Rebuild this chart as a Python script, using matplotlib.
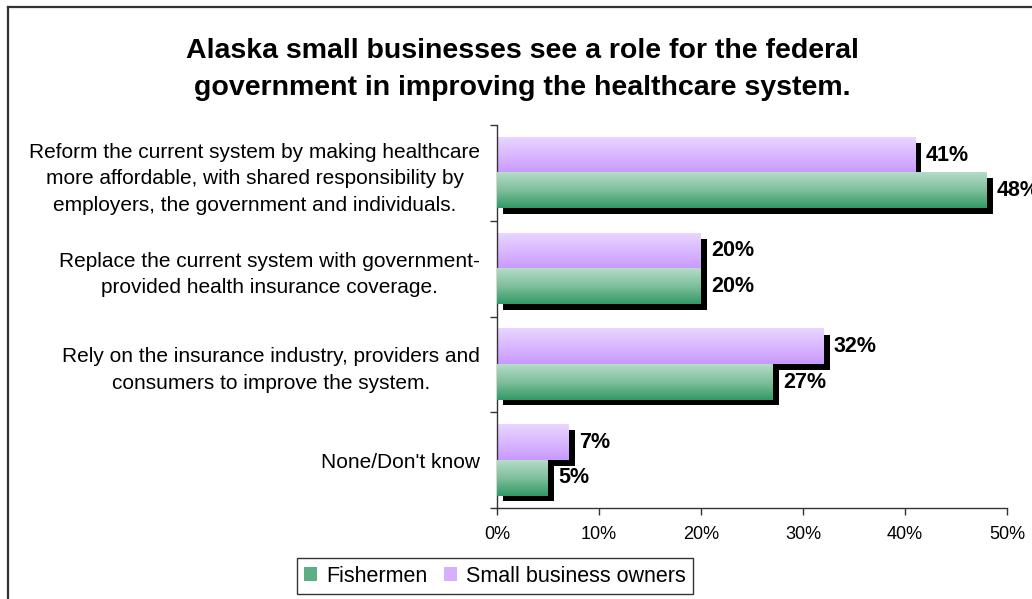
import numpy as np
import matplotlib
matplotlib.use('Agg')
import matplotlib.pyplot as plt
import matplotlib.patheffects as pe
from matplotlib.colors import LinearSegmentedColormap
from matplotlib.patches import Patch
from matplotlib.lines import Line2D

plt.rcParams['font.family'] = ['Liberation Sans', 'DejaVu Sans']

#-------------------------------------------------------------------------------------
categories = ['Reform the current system by making healthcare\nmore affordable, with shared responsibility by\nemployers, the government and individuals.',
              'Replace the current system with government-\nprovided health insurance coverage.',
              'Rely on the insurance industry, providers and\nconsumers to improve the system.',
              "None/Don't know"]
fishermen = [48, 20, 27, 5]
small_biz = [41, 20, 32, 7]
xticks = [0, 10, 20, 30, 40, 50]
xticklabels = ['0%', '10%', '20%', '30%', '40%', '50%']
title = 'Alaska small businesses see a role for the federal\ngovernment in improving the healthcare system.'
#-------------------------------------------------------------------------------------

green_cmap = LinearSegmentedColormap.from_list('g', ['#b4dcc8', '#7fbf9c', '#339966'])
purple_cmap = LinearSegmentedColormap.from_list('p', ['#e8d6ff', '#d9b8ff', '#c999ff'])
grad = np.linspace(0, 1, 64).reshape(-1, 1)

fig = plt.figure(figsize=(10.32, 5.99), dpi=100)
ax = fig.add_axes([497/1032, 1-508/599, 510/1032, 383/599])

n = len(categories)
y = np.arange(n)
h = 0.37
shadow = [pe.SimplePatchShadow(offset=(4.4, -4), shadow_rgbFace='black', alpha=1.0)]


def draw_bars(vals, pos, cmap, z):
    bars = ax.barh(pos, vals, height=h, facecolor='none', linewidth=0, zorder=z,
                   path_effects=shadow)
    for b in bars:
        x0, y0 = b.get_x(), b.get_y()
        w, hh = b.get_width(), b.get_height()
        ax.imshow(grad, cmap=cmap, extent=(x0, x0 + w, y0 + hh, y0), origin='upper',
                  aspect='auto', zorder=z + 0.1, interpolation='bilinear')
    for v, p in zip(vals, pos):
        ax.annotate('%d%%' % v, (v, p), xytext=(7.5, 0), textcoords='offset points',
                    ha='left', va='center', fontsize=15.5, fontweight='bold', zorder=z + 0.2)


draw_bars(small_biz, y - h/2, purple_cmap, 2)
draw_bars(fishermen, y + h/2, green_cmap, 3)

ax.set_xlim(0, 50)
ax.set_ylim(n - 0.5, -0.5)
ax.set_xticks(xticks)
ax.set_xticklabels(xticklabels, fontsize=13)
ax.set_yticks(np.arange(n + 1) - 0.5)
ax.set_yticklabels([])
ax.set_yticks(y, minor=True)
ax.set_yticklabels(categories, minor=True, fontsize=15, multialignment='center', linespacing=1.5)
ax.tick_params(axis='y', which='minor', length=0, pad=12)
ax.tick_params(axis='y', which='major', length=5, width=1, color='#333333')
ax.tick_params(axis='x', length=5, width=1, color='#333333', pad=8)
for s in ['top', 'right']:
    ax.spines[s].set_visible(False)
for s in ['left', 'bottom']:
    ax.spines[s].set_color('#333333')
    ax.spines[s].set_linewidth(1)

fig.text(522/1032, 1-69.5/599, title, ha='center', va='center', fontsize=20.5,
         fontweight='bold', linespacing=1.55)

handles = [Patch(facecolor='#5dae84', edgecolor='none'), Patch(facecolor='#d6b0ff', edgecolor='none')]
leg = fig.legend(handles, ['Fishermen', 'Small business owners'], loc='center',
                 bbox_to_anchor=(495/1032, 1-576/599), ncol=2, fontsize=15.5, frameon=True,
                 fancybox=False, handlelength=0.6, handleheight=0.6, handletextpad=0.4,
                 columnspacing=0.8, borderpad=0.35)
leg.get_frame().set_edgecolor('black')
leg.get_frame().set_linewidth(1)

# outer chart frame
fig.add_artist(Line2D([8/1032, 1], [1-7/599, 1-7/599], color='#333333', linewidth=1.6))
fig.add_artist(Line2D([8/1032, 8/1032], [0, 1-7/599], color='#333333', linewidth=1.6))

plt.savefig('out.png', dpi=100)
